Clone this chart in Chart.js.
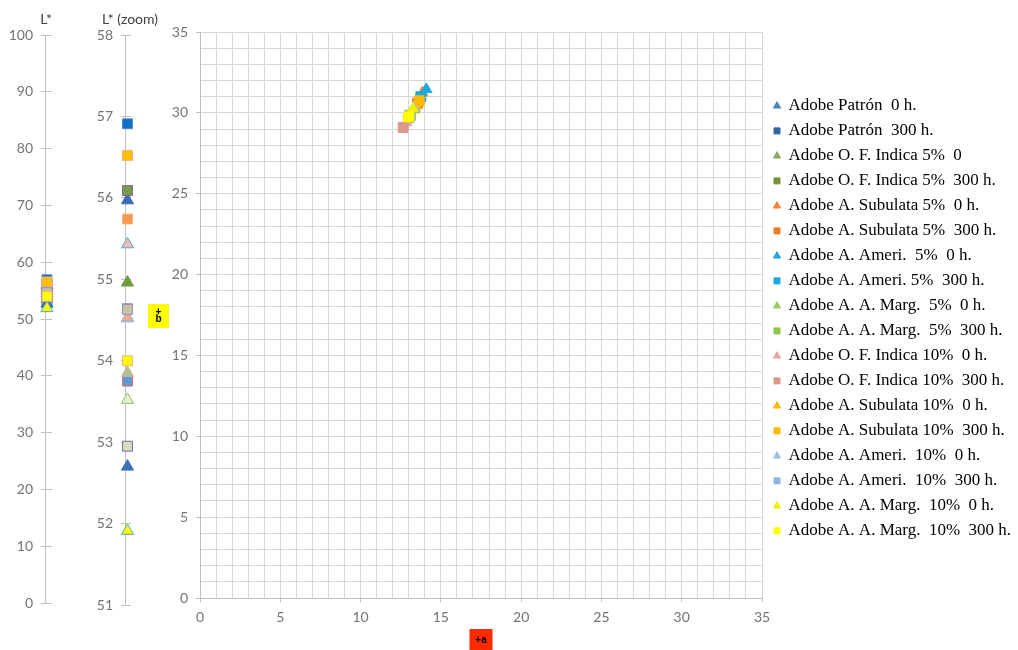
<!DOCTYPE html>
<html lang="es">
<head>
<meta charset="utf-8">
<title>L* a* b* – Adobe</title>
<script src="https://cdn.jsdelivr.net/npm/chart.js@4.4.1/dist/chart.umd.min.js"></script>
<style>
  html, body { margin: 0; padding: 0; background: #ffffff; }
  body { width: 1018px; height: 650px; overflow: hidden; position: relative; }
  .panel { position: absolute; top: 0; height: 650px; }
  #lightness { left: 0; width: 60px; }
  #lightnessZoom { left: 60px; width: 140px; }
  #chroma { left: 140px; width: 880px; }
</style>
</head>
<body>
<div class="panel" id="lightness"><canvas id="cLight"></canvas></div>
<div class="panel" id="lightnessZoom"><canvas id="cZoom"></canvas></div>
<div class="panel" id="chroma"><canvas id="cChroma"></canvas></div>

<script>
// ---- Series ---------------------------------------------------------------
const seriesNames = [
  'Adobe Patrón  0 h.',
  'Adobe Patrón  300 h.',
  'Adobe O. F. Indica 5%  0',
  'Adobe O. F. Indica 5%  300 h.',
  'Adobe A. Subulata 5%  0 h.',
  'Adobe A. Subulata 5%  300 h.',
  'Adobe A. Ameri.  5%  0 h.',
  'Adobe A. Ameri. 5%  300 h.',
  'Adobe A. A. Marg.  5%  0 h.',
  'Adobe A. A. Marg.  5%  300 h.',
  'Adobe O. F. Indica 10%  0 h.',
  'Adobe O. F. Indica 10%  300 h.',
  'Adobe A. Subulata 10%  0 h.',
  'Adobe A. Subulata 10%  300 h.',
  'Adobe A. Ameri.  10%  0 h.',
  'Adobe A. Ameri.  10%  300 h.',
  'Adobe A. A. Marg.  10%  0 h.',
  'Adobe A. A. Marg.  10%  300 h.'
];

// Lightness L*
const lValues = [55.97, 56.91, 54.96, 56.09, 54.52, 55.74, 55.43, 53.75, 53.52,
                 54.64, 53.85, 52.95, 52.70, 56.52, 54.53, 54.63, 51.91, 54.00];

// Chromatic coordinates a* and b*
const aValues = [13.35, 13.05, 13.30, 13.00, 13.85, 13.55, 14.10, 13.75, 13.40,
                 13.10, 12.85, 12.65, 13.45, 13.65, 13.30, 13.05, 13.25, 13.00];
const bValues = [30.25, 29.80, 30.20, 29.70, 31.25, 30.60, 31.45, 31.00, 30.40,
                 29.85, 29.40, 29.10, 30.45, 30.75, 30.30, 29.80, 30.25, 29.75];

// Axis tick labels
const lTickLabels = [0, 10, 20, 30, 40, 50, 60, 70, 80, 90, 100];
const lZoomTickLabels = [51, 52, 53, 54, 55, 56, 57, 58];
const abTickLabels = [0, 5, 10, 15, 20, 25, 30, 35];

// ---- Styles ---------------------------------------------------------------
const markerShapes = seriesNames.map((_, i) => (i % 2 === 0 ? 'triangle' : 'rect'));
const seriesColors = ['#4F81BD', '#3464A8', '#8DA85A', '#76923C', '#F7823A', '#F07A24',
                      '#1BA8E6', '#16A9E4', '#9ACD68', '#8CC64C', '#E8A4A4', '#D99A8A',
                      '#FFB900', '#FFB900', '#9DC3E6', '#8EB4E3', '#F0F000', '#FFFF00'];
const lFill   = ['#3A6DB5', '#1170C4', '#6F9A3E', '#7A9A45', '#F2A98C', '#F79A4E',
                 '#F4BBB8', '#5B9BD5', '#E4EED8', '#C9C4A0', '#B9BC94', '#D6DDC0',
                 '#3D71B8', '#FFC000', '#F2A98C', '#C9C4A0', '#FFFF00', '#FFFF00'];
const lBorder = ['#3A6DB5', '#5B87C5', '#6F9A3E', '#8064A2', '#8EB4E3', '#F5B485',
                 '#4BACC6', '#E06666', '#9BBB59', '#9C8CC4', '#B9BC94', '#8064A2',
                 '#3D71B8', '#F4B183', '#8EB4E3', '#9C8CC4', '#4BACC6', '#F4B183'];

const tickColor = '#737373';
const axisGray = '#bfbfbf';
const gridGray = '#d6d6d6';
Chart.defaults.font.family = 'Lato, "Open Sans", sans-serif';
Chart.defaults.animation = false;

// Caption written above a lightness axis
const axisCaption = {
  id: 'axisCaption',
  afterDraw(chart, args, opts) {
    const { ctx, chartArea } = chart;
    ctx.save();
    ctx.font = '14px Lato, sans-serif';
    ctx.fillStyle = '#404040';
    ctx.textAlign = 'center';
    ctx.textBaseline = 'middle';
    ctx.fillText(opts.text, chartArea.left + opts.dx, 19);
    ctx.restore();
  }
};

// Coloured axis badges "+a" / "+b" of the chromaticity plane
const axisBadges = {
  id: 'axisBadges',
  afterDraw(chart, args, opts) {
    const { ctx, chartArea: ca } = chart;
    ctx.save();
    ctx.font = 'bold 10px "Liberation Sans", Arial, sans-serif';
    ctx.textAlign = 'center';
    ctx.textBaseline = 'middle';
    // "+a" under the horizontal axis
    const ax = (ca.left + ca.right) / 2;
    const ay = ca.bottom + 42;
    ctx.fillStyle = '#ff2a00';
    ctx.fillRect(ax - 11.5, ay - 11, 23, 23);
    ctx.fillStyle = '#000000';
    ctx.fillText(opts.xText, ax, ay);
    // "+b" beside the vertical axis, characters stacked
    const bx = ca.left - 41.5;
    const by = (ca.top + ca.bottom) / 2 + 1;
    ctx.fillStyle = '#ffff00';
    ctx.fillRect(bx - 10.5, by - 12, 21, 24);
    ctx.fillStyle = '#000000';
    const chars = Array.from(opts.yText);
    const lineH = 7;
    chars.forEach((ch, k) => {
      ctx.fillText(ch, bx, by + (k - (chars.length - 1) / 2) * lineH);
    });
    ctx.restore();
  }
};

// Moves the legend block a little to the right of the plot and lets its
// longest entries run up to the edge of the canvas
const legendNudge = {
  id: 'legendNudge',
  afterLayout(chart, args, opts) {
    if (chart.legend) {
      chart.legend.left += opts.dx;
      chart.legend.right += opts.dx + opts.extra;
    }
  }
};

// ---- Lightness strips -----------------------------------------------------
function lightnessStrip(canvasId, caption, captionDx, ticks, xRange, axisWidth, padRight, padBottom) {
  const step = ticks[1] - ticks[0];
  return new Chart(document.getElementById(canvasId), {
    type: 'scatter',
    data: {
      datasets: [{
        data: lValues.map(v => ({ x: 0, y: v })),
        pointStyle: markerShapes,
        pointRadius: 7,
        backgroundColor: lFill,
        borderColor: lBorder,
        borderWidth: 1,
        clip: false
      }]
    },
    options: {
      responsive: true,
      maintainAspectRatio: false,
      events: [],
      layout: { padding: { top: 35, right: padRight, bottom: padBottom, left: 0 } },
      plugins: {
        legend: { display: false },
        tooltip: { enabled: false },
        axisCaption: { text: caption, dx: captionDx }
      },
      scales: {
        x: { type: 'linear', display: false, min: xRange[0], max: xRange[1] },
        y: {
          type: 'linear',
          min: ticks[0],
          max: ticks[ticks.length - 1],
          ticks: { stepSize: step, padding: 8, color: tickColor, font: { size: 14 } },
          grid: { color: axisGray, tickLength: 4, drawOnChartArea: true },
          border: { color: axisGray },
          afterFit: s => { s.width = axisWidth; }
        }
      }
    },
    plugins: [axisCaption]
  });
}

lightnessStrip('cLight', 'L*', 1, lTickLabels, [-2, 5], 45, 8, 47);
lightnessStrip('cZoom', 'L* (zoom)', 5, lZoomTickLabels, [-2.5, 3.5], 65, 69, 45);

// ---- a* / b* plane --------------------------------------------------------
const chromaDatasets = seriesNames.map((name, i) => ({
  label: name,
  data: [{ x: aValues[i], y: bValues[i] }],
  pointStyle: markerShapes[i],
  pointRadius: markerShapes[i] === 'rect' ? 7 : 6.5,
  backgroundColor: seriesColors[i],
  borderColor: seriesColors[i],
  borderWidth: 1,
  order: -i
}));

const labelledTick = v => (abTickLabels.includes(v) ? v : '');
const tickMarkColor = c => (c.tick && abTickLabels.includes(c.tick.value) ? axisGray : 'rgba(0,0,0,0)');

new Chart(document.getElementById('cChroma'), {
  type: 'scatter',
  data: { datasets: chromaDatasets },
  options: {
    responsive: true,
    maintainAspectRatio: false,
    events: [],
    layout: { padding: { top: 32, right: 18, bottom: 0, left: 0 } },
    plugins: {
      tooltip: { enabled: false },
      legend: {
        position: 'right',
        align: 'start',
        maxWidth: 240,
        title: { display: true, text: '', padding: { top: 43, bottom: 0 }, font: { size: 12 } },
        labels: {
          usePointStyle: true,
          boxWidth: 6,
          boxHeight: 6,
          padding: 8,
          color: '#000000',
          font: { family: '"Liberation Serif", "Times New Roman", serif', size: 17 },
          sort: (a, b) => a.datasetIndex - b.datasetIndex
        }
      },
      axisBadges: { xText: '+a', yText: '+b' },
      legendNudge: { dx: 4, extra: 40 }
    },
    scales: {
      x: {
        type: 'linear',
        min: abTickLabels[0],
        max: abTickLabels[abTickLabels.length - 1],
        ticks: { stepSize: 1, autoSkip: false, maxRotation: 0, padding: 7,
                 color: tickColor, font: { size: 14 }, callback: labelledTick },
        grid: { color: gridGray, tickLength: 4, tickColor: tickMarkColor },
        border: { color: axisGray },
        afterFit: s => { s.height = 52; }
      },
      y: {
        type: 'linear',
        min: abTickLabels[0],
        max: abTickLabels[abTickLabels.length - 1],
        ticks: { stepSize: 1, autoSkip: false, padding: 8,
                 color: tickColor, font: { size: 14 }, callback: labelledTick },
        grid: { color: gridGray, tickLength: 4, tickColor: tickMarkColor },
        border: { color: axisGray },
        afterFit: s => { s.width = 60; }
      }
    }
  },
  plugins: [axisBadges, legendNudge]
});
</script>
</body>
</html>
